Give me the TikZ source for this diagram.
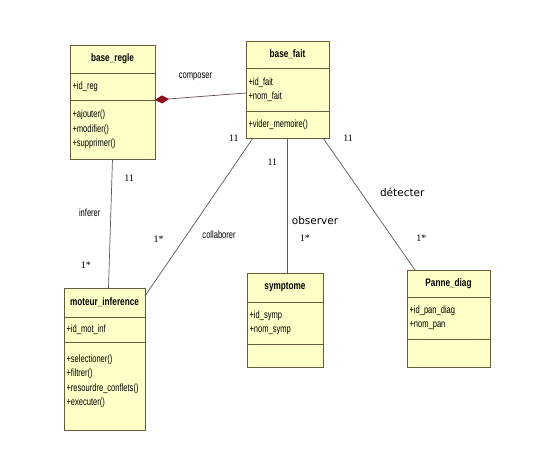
\documentclass[tikz,border=0pt]{standalone}
\usepackage{fontspec}
\usetikzlibrary{positioning,arrows.meta}
\newfontfamily\umlfont[FakeStretch=0.72]{Liberation Sans}
\newfontfamily\umltitle[FakeStretch=0.76]{Liberation Sans}
\newfontfamily\lblfont{DejaVu Sans}
\newfontfamily\mulfont{Liberation Serif}
\definecolor{cls}{RGB}{255,255,200}
\definecolor{brd}{RGB}{105,92,58}
\definecolor{lnk}{RGB}{90,90,90}
\definecolor{dia}{RGB}{140,12,30}
\definecolor{cmp}{RGB}{100,80,80}

\tikzstyle{t} = [rectangle, draw=brd, fill=cls, line width=0.9pt, inner sep=0pt, outer sep=0pt, font=\umltitle\fontsize{10.8}{12}\selectfont\bfseries]
\tikzstyle{s} = [rectangle, draw=brd, fill=cls, line width=0.9pt, inner xsep=2.5pt, inner ysep=0pt, outer sep=0pt, align=left, font=\umlfont\fontsize{10.5}{14.5}\selectfont]
\tikzstyle{a} = [draw=lnk, line width=0.7pt]
\tikzstyle{m} = [font=\mulfont\fontsize{10}{11}\selectfont, inner sep=0pt]
\tikzstyle{n} = [font=\umlfont\fontsize{10.5}{12}\selectfont, inner sep=0pt]
\tikzstyle{w} = [font=\lblfont\fontsize{10.5}{12}\selectfont, inner sep=0pt]

\begin{document}
\begin{tikzpicture}[x=1pt, y=-1pt]
	\useasboundingbox [fill=white] (0,0) rectangle (541,460);

	% base_regle
	\node [t, anchor=north west, minimum width=85pt, minimum height=28pt] (rt) at (70,45) {base\_regle};
	\node [s, below=0pt of rt, text width=80pt, minimum height=27pt] (ra) {+id\_reg};
	\node [s, below=0pt of ra, text width=80pt, minimum height=59pt] (rm) {+ajouter()\\+modifier()\\+supprimer()};

	% base_fait
	\node [t, anchor=north west, minimum width=83pt, minimum height=27pt] (ft) at (246,41) {base\_fait};
	\node [s, below=0pt of ft, text width=78pt, minimum height=43pt] (fa) {+id\_fait\\+nom\_fait};
	\node [s, below=0pt of fa, text width=78pt, minimum height=27pt] (fm) {+vider\_memoire()};

	% moteur_inference
	\node [t, anchor=north west, minimum width=81pt, minimum height=29pt] (mt) at (64,288) {moteur\_inference};
	\node [s, below=0pt of mt, text width=76pt, minimum height=25pt] (ma) {+id\_mot\_inf};
	\node [s, below=0pt of ma, text width=76pt, minimum height=88pt] (mm) {+selectioner()\\+filtrer()\\+resourdre\_conflets()\\+executer()\rule[-12pt]{0pt}{0pt}};

	% symptome
	\node [t, anchor=north west, minimum width=76pt, minimum height=29pt] (st) at (247,273) {symptome};
	\node [s, below=0pt of st, text width=71pt, minimum height=42pt] (sa) {+id\_symp\\+nom\_symp};
	\node [s, below=0pt of sa, text width=71pt, minimum height=23pt] (sm) {};

	% Panne_diag
	\node [t, anchor=north west, minimum width=83pt, minimum height=27pt] (pt) at (407,270) {Panne\_diag};
	\node [s, below=0pt of pt, text width=78pt, minimum height=42pt] (pa) {+id\_pan\_diag\\+nom\_pan};
	\node [s, below=0pt of pa, text width=78pt, minimum height=28pt] (pm) {};

	\draw [a, draw=cmp, {Diamond[length=14pt, width=8pt, color=dia]}-] (ra.south east) -- ([yshift=-3.5pt]fa.west)
		node [n, midway, above=15pt, xshift=-5pt] {composer};
	\draw [a] (rm.south) -- ([xshift=4pt]mt.north)
		node [m, pos=0.15, right=12pt] {11}
		node [n, pos=0.42, left=10pt] {inferer}
		node [m, pos=0.82, left=18pt] {1*};
	\draw [a] ([xshift=7pt]fm.south west) -- ([yshift=-8pt]mt.north east)
		node [m, pos=0, left=14pt] {11}
		node [m, pos=0.64, left=20pt] {1*}
		node [n, pos=0.61, right=15pt] {collaborer};
	\draw [a] (fm.south) -- (fm.south |- st.north)
		node [m, pos=0.18, left=10pt] {11}
		node [w, pos=0.61, right=4pt] {observer}
		node [m, pos=0.74, right=12pt] {1*};
	\draw [a] ([xshift=-6pt]fm.south east) -- ([xshift=8pt]pt.north west)
		node [m, pos=0, right=20pt] {11}
		node [w, pos=0.41, right=19pt] {détecter}
		node [m, pos=0.76, right=23pt] {1*};
\end{tikzpicture}
\end{document}
